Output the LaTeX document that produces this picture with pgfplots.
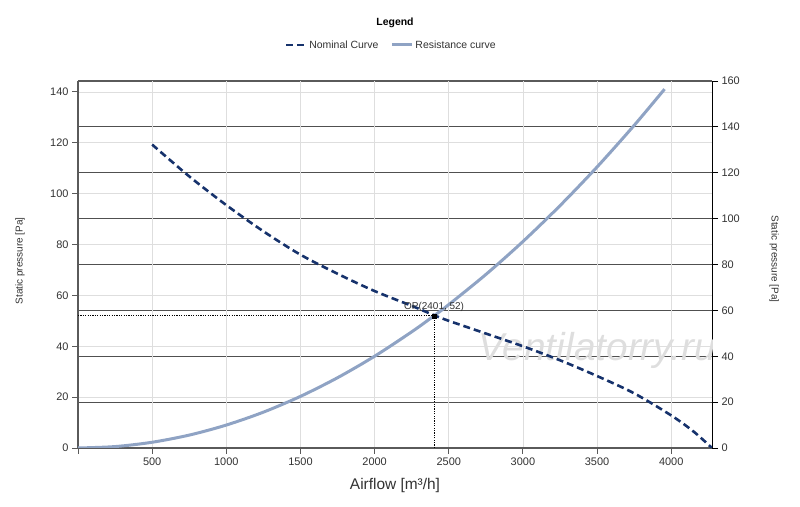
\documentclass[border=0pt]{standalone}
\usepackage{fontspec}
\setmainfont{Liberation Sans}
\usepackage{pgfplots}
\pgfplotsset{compat=1.18}
\definecolor{nomc}{RGB}{22,50,108}
\definecolor{resc}{RGB}{143,163,196}
\definecolor{lgrid}{RGB}{222,222,222}
\definecolor{dgrid}{RGB}{80,80,80}
\definecolor{axc}{RGB}{90,90,90}
\definecolor{tickc}{RGB}{50,50,50}
\begin{document}
\begin{tikzpicture}[x=1bp,y=1bp]
\path[use as bounding box] (0,0) rectangle (800,507);
% right axis with dark grid
\begin{axis}[
  at={(78bp,59bp)}, anchor=south west,
  scale only axis, width=634bp, height=367bp,
  xmin=0, xmax=4275, ymin=0, ymax=160,
  axis x line*=top, axis y line*=right,
  xtick=\empty,
  ytick={0,20,...,160},
  ymajorgrids, grid style={dgrid, line width=1.1bp},
  axis line style={black, line width=0.9bp},
  x axis line style={axc, line width=1.2bp},
  tick align=outside, major tick length=6bp,
  tick style={black, line width=0.8bp},
  ticklabel style={font=\fontsize{11}{13}\selectfont, text=tickc},
  /pgf/number format/assume math mode=true,
  ylabel={Static pressure [Pa]},
  ylabel style={at={(rel axis cs:1.098,0.515)}, anchor=center, rotate=180, font=\fontsize{10}{12}\selectfont, text=tickc},
]
\end{axis}
% main axis
\begin{axis}[
  at={(78bp,59bp)}, anchor=south west,
  scale only axis, width=634bp, height=367bp,
  xmin=0, xmax=4275, ymin=0, ymax=144.3,
  axis x line*=bottom, axis y line*=left,
  xtick={0,500,...,4000},
  xticklabels={,500,1000,1500,2000,2500,3000,3500,4000},
  ytick={0,20,...,140},
  xmajorgrids, ymajorgrids,
  grid style={lgrid, line width=0.8bp},
  axis line style={axc, line width=1.3bp, -},
  tick align=outside, major tick length=6bp,
  tick style={axc, line width=0.9bp},
  ticklabel style={font=\fontsize{11}{13}\selectfont, text=tickc},
  /pgf/number format/assume math mode=true,
  /pgf/number format/1000 sep={},
  xlabel={Airflow [m³/h]},
  xlabel style={at={(rel axis cs:0.5,0)}, anchor=center, yshift=-38bp, font=\fontsize{15.5}{18}\selectfont, text=tickc},
  ylabel={Static pressure [Pa]},
  ylabel style={at={(rel axis cs:-0.0915,0.51)}, anchor=center, font=\fontsize{10}{12}\selectfont, text=tickc},
  title={\textbf{Legend}},
  title style={at={(rel axis cs:0.5,1)}, anchor=center, yshift=52bp, font=\fontsize{10.5}{12}\selectfont},
  legend columns=2,
  legend style={at={(rel axis cs:0.494,1)}, anchor=center, yshift=36bp, draw=none, fill=none,
    font=\fontsize{10.5}{12}\selectfont, text=tickc,
    /tikz/every even column/.append style={column sep=10bp}},
  legend image code/.code={\draw[#1] (0bp,0bp) -- (20bp,0bp);},
]
\node[font=\fontsize{39}{39}\selectfont\itshape, text=black!13] at (axis cs:3500,38.5) {Ventilatorry.ru};
\addplot[nomc, line width=2.6bp, dash pattern=on 7bp off 4bp, smooth] coordinates {
 (500,119.3) (750,106.8) (1000,95.5) (1250,85.2) (1500,76.0) (1750,68.5)
 (2000,61.7) (2250,55.9) (2401,52.2) (2500,50.0) (2750,45.0) (3000,40.0)
 (3250,34.5) (3500,28.3) (3750,21.5) (4000,12.8) (4150,6.5) (4275,0)};
\addlegendentry{Nominal Curve}
\addplot[resc, line width=3bp, smooth] coordinates {
 (0,0) (250,0.56) (500,2.26) (750,5.07) (1000,9.02) (1250,14.09) (1500,20.30)
 (1750,27.63) (2000,36.08) (2250,45.67) (2401,52.0) (2500,56.38) (2750,68.22)
 (3000,81.18) (3250,95.28) (3500,110.50) (3750,126.85) (3955,141.1)};
\addlegendentry{Resistance curve}
\addplot[black, line width=0.5bp, dash pattern=on 1.2bp off 1.2bp, forget plot] coordinates {(0,52) (2401,52)};
\addplot[black, line width=0.5bp, dash pattern=on 1.2bp off 1.2bp, forget plot] coordinates {(2401,0) (2401,52)};
\addplot[only marks, mark=square*, mark size=2bp, black, forget plot] coordinates {(2401,52)}
  node[above, yshift=1bp, font=\fontsize{10}{12}\selectfont, text=tickc] {OP(2401, 52)};
\end{axis}
\end{tikzpicture}
\end{document}
